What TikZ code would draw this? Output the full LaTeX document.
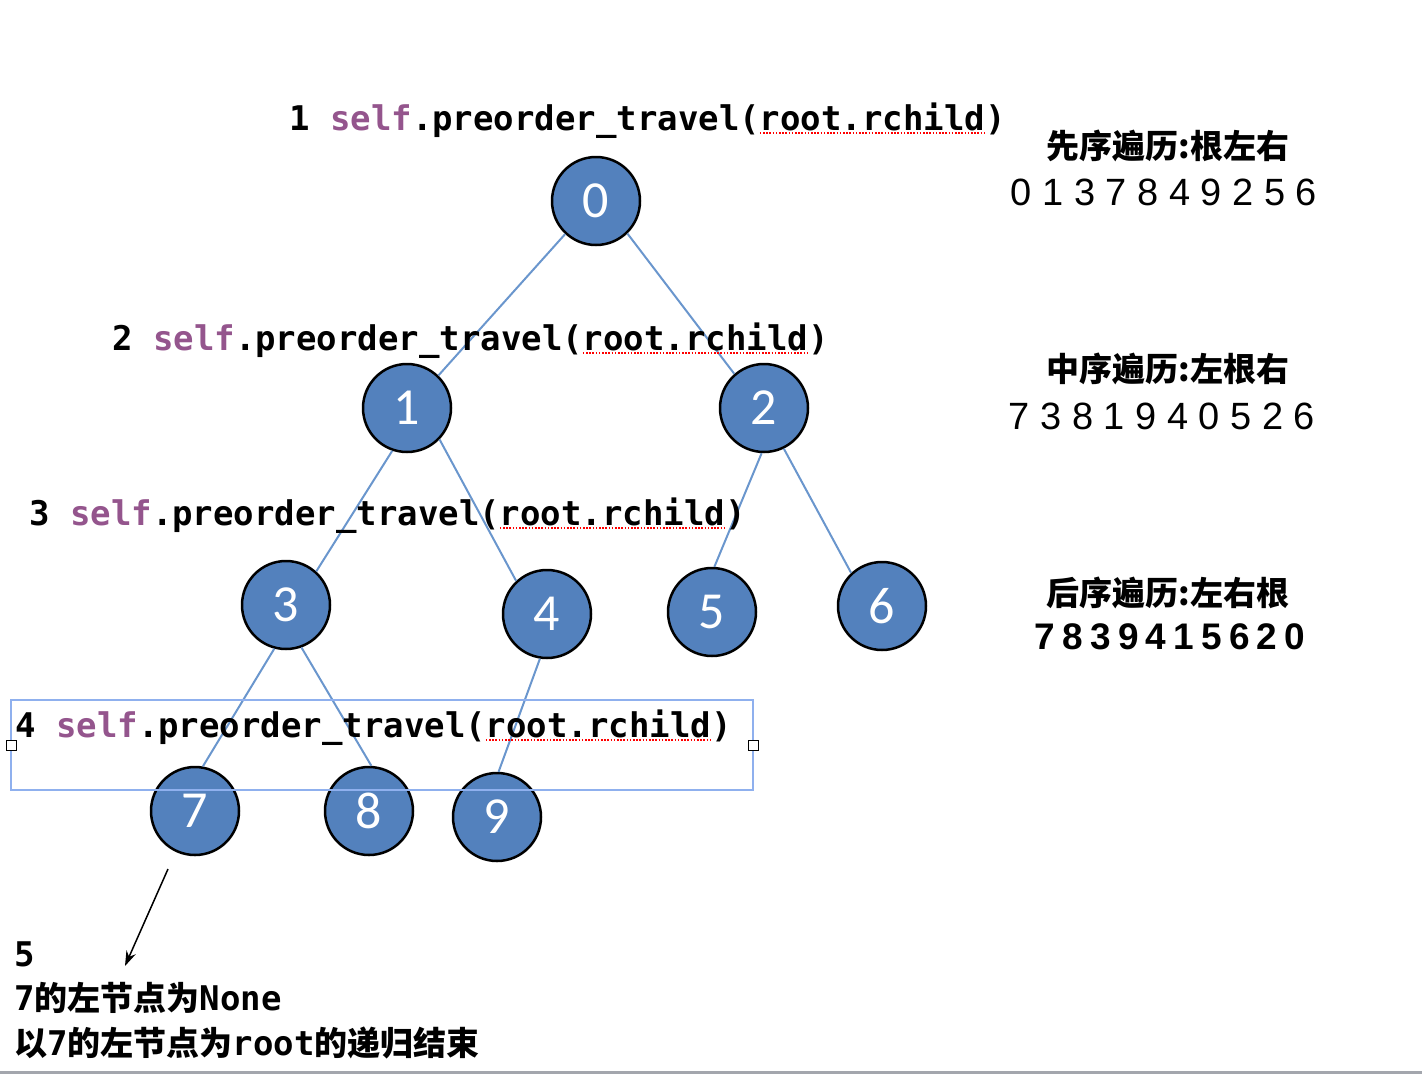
\documentclass[tikz,border=0pt]{standalone}
\usepackage{fontspec}
\setmainfont{Liberation Sans}
\newfontfamily\codefont{DejaVu Sans Mono}
\newfontfamily\cjk{Noto Sans CJK SC}
\newfontfamily\numfont{Carlito}
\newfontfamily\postfont{Liberation Sans Bold}[WordSpace=0.7]
\usepackage{tikz}
\usetikzlibrary{arrows.meta,calc}
\definecolor{nodeblue}{RGB}{83,129,189}
\definecolor{edgeblue}{RGB}{106,150,205}
\definecolor{selfpurple}{RGB}{148,85,141}
\definecolor{selblue}{RGB}{143,176,238}
\definecolor{bargray}{RGB}{163,166,173}
\tikzstyle{tnode} = [draw=black, line width=2.5pt, fill=nodeblue, circle, minimum size=88pt, inner sep=0pt, text=white, font=\numfont\fontsize{52}{52}\selectfont]
\tikzstyle{edge} = [draw=edgeblue, line width=2pt]
\tikzstyle{code} = [anchor=base west, inner sep=0pt, font=\codefont\bfseries\fontsize{34}{40}\selectfont]
\tikzstyle{squig} = [draw=red, line width=1.6pt, dash pattern=on 1.6pt off 1.6pt]
\tikzstyle{head} = [inner sep=0pt, font=\cjk\bfseries\fontsize{33}{40}\selectfont]
\tikzstyle{seq} = [inner sep=0pt, font=\fontsize{38}{40}\selectfont]
\tikzstyle{note} = [anchor=base west, inner sep=0pt, font=\codefont\bfseries\fontsize{34}{40}\selectfont]
\tikzstyle{handle} = [draw=black, fill=white, line width=0.8pt, minimum size=10pt, inner sep=0pt]
\tikzstyle{arrow} = [-{Stealth[length=15pt,width=10pt]}, line width=1.5pt]
\newcommand\charw{20.47}
\newcommand\selfw{\textcolor{selfpurple}{self}}
\newcommand\zh[1]{{\cjk\bfseries\fontsize{33}{40}\selectfont #1}}

\begin{document}
\begin{tikzpicture}[x=1pt, y=-1pt]
	\useasboundingbox (0, 0) rectangle (1422, 1074);

	\node[tnode](n0) at (596, 201){0};
	\node[tnode](n1) at (407, 408){1};
	\node[tnode](n2) at (764, 408){2};
	\node[tnode](n3) at (286, 605){3};
	\node[tnode](n4) at (547, 614){4};
	\node[tnode](n5) at (712, 612){5};
	\node[tnode](n6) at (882, 606){6};
	\node[tnode](n7) at (195, 811){7};
	\node[tnode](n8) at (369, 811){8};
	\node[tnode](n9) at (497, 817){9};
	\draw[edge](n0.-133) -- (n1.46);
	\draw[edge](n0.-46) -- (n2.131);
	\draw[edge](n1.-109) -- (n3.48);
	\draw[edge](n1.-44) -- (n4.133);
	\draw[edge](n2.-93) -- (n5.87);
	\draw[edge](n2.-64) -- (n6.133);
	\draw[edge](n3.-105) -- (n7.80);
	\draw[edge](n3.-70) -- (n8.87);
	\draw[edge](n4.-99) -- (n9.88);

	\node[code](c1) at (289, 130){1 \selfw.preorder\_travel(root.rchild)};
	\node[code](c2) at (112, 350){2 \selfw.preorder\_travel(root.rchild)};
	\node[code](c3) at (29, 525){3 \selfw.preorder\_travel(root.rchild)};
	\node[code](c4) at (15, 737){4 \selfw.preorder\_travel(root.rchild)};
	\foreach \c in {c1, c2, c3, c4}
		\draw[squig] ($(\c.base west)+(23*\charw, 3)$) -- ++(11*\charw, 0);

	% selected text box round line 4
	\draw[selblue, line width=1.5pt] (11, 700) rectangle (753, 790);
	\node[handle](hl) at (11, 745){};
	\node[handle](hr) at (753, 745){};

	\node[head](pre) at (1168, 146){先序遍历:根左右};
	\node[seq](preseq) at (1164, 192){0 1 3 7 8 4 9 2 5 6};
	\node[head](in) at (1168, 369){中序遍历:左根右};
	\node[seq](inseq) at (1162, 416){7 3 8 1 9 4 0 5 2 6};
	\node[head](post) at (1168, 593){后序遍历:左右根};
	\node[seq, font=\postfont\fontsize{37}{40}\selectfont](postseq) at (1170, 637){7 8 3 9 4 1 5 6 2 0};

	\coordinate (tail) at (168, 869);
	\coordinate (tip) at (125, 966);
	\draw[arrow](tail) -- (tip);
	\node[note](l5) at (14, 966){5};
	\node[note](none) at (14, 1010){7\zh{的左节点为}None};
	\node[note](done) at (14, 1055){\zh{以}7\zh{的左节点为}root\zh{的递归结束}};

	\draw[bargray, line width=3pt] (0, 1072.5) -- (1422, 1072.5);
\end{tikzpicture}
\end{document}
